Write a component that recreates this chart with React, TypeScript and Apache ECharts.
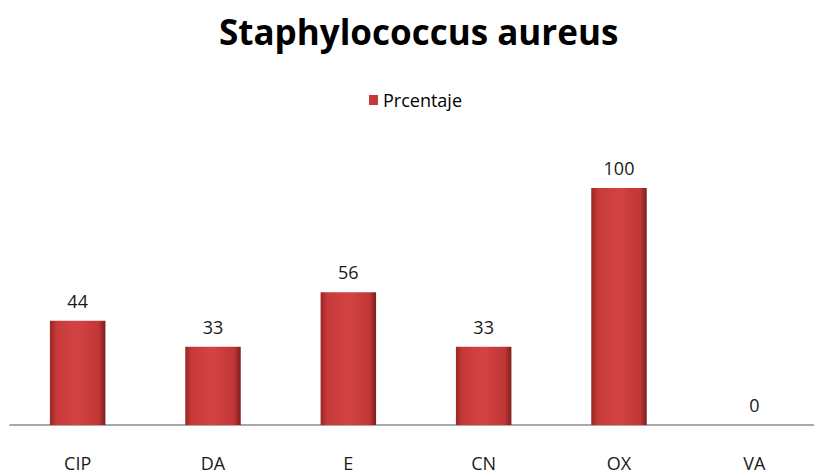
import React, { useEffect, useRef } from "react";
import * as echarts from "echarts";

const categories = ["CIP", "DA", "E", "CN", "OX", "VA"];
const seriesName = "Prcentaje";
const values = [44, 33, 56, 33, 100, 0];
const titleText = "Staphylococcus aureus";

export default function App() {
  const ref = useRef<HTMLDivElement>(null);
  useEffect(() => {
    const chart = echarts.init(ref.current!, null, { renderer: "svg" });
    const barColor = new echarts.graphic.LinearGradient(0, 0, 1, 0, [
      { offset: 0, color: "#9a2626" },
      { offset: 0.12, color: "#c73a3a" },
      { offset: 0.5, color: "#d44343" },
      { offset: 0.88, color: "#c13636" },
      { offset: 1, color: "#7e1d1d" },
    ]);
    chart.setOption({
      animation: false,
      backgroundColor: "#ffffff",
      title: {
        text: titleText,
        left: 214,
        top: 9,
        textStyle: { fontFamily: "Open Sans", fontSize: 35, fontWeight: "bold", color: "#000" },
      },
      legend: {
        top: 86,
        left: 364,
        itemWidth: 9,
        itemHeight: 10,
        itemGap: 6,
        icon: "rect",
        textStyle: { fontFamily: "Open Sans", fontSize: 18, color: "#000" },
        data: [{ name: seriesName, itemStyle: { color: "#c83a3a" } }],
      },
      grid: {
        left: 10,
        width: 812,
        top: 188,
        bottom: 50,
        containLabel: false,
        outerBoundsMode: "none",
      },
      xAxis: {
        type: "category",
        data: categories,
        axisLine: { lineStyle: { color: "#8c8c8c", width: 1.5 } },
        axisTick: { show: false },
        axisLabel: { margin: 29, fontFamily: "Open Sans", fontSize: 18, color: "#1a1a1a" },
      },
      yAxis: {
        type: "value",
        min: 0,
        max: 100,
        show: false,
        splitLine: { show: false },
      },
      series: [
        {
          name: seriesName,
          type: "bar",
          data: values,
          barWidth: "41%",
          itemStyle: { color: barColor },
          label: {
            show: true,
            position: "top",
            distance: 11,
            fontFamily: "Open Sans",
            fontSize: 18,
            color: "#1a1a1a",
          },
        },
      ],
    });
    return () => chart.dispose();
  }, []);
  return (
    <div
      ref={ref}
      style={{ position: "fixed", left: 0, top: 0, width: 814, height: 475 }}
    />
  );
}
